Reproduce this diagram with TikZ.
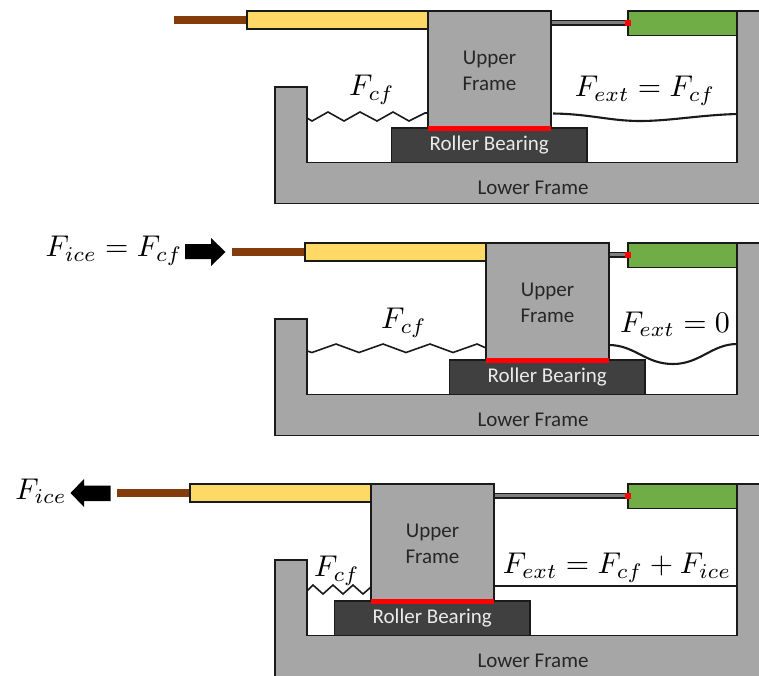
\documentclass[tikz,border=0pt]{standalone}
\usepackage[no-math]{fontspec}
\setmainfont{Carlito}
\tikzset{
  part/.style={draw=edgecol,line width=1.8pt,anchor=north west,inner sep=0pt,outer sep=0pt},
  framebox/.style={part,fill=framegray,text=black!85,align=center,font=\fontsize{21}{25.5}\selectfont},
  frameline/.style={draw=edgecol,line width=1.8pt,fill=framegray,line join=miter},
  bearingbox/.style={part,fill=bearing,text=white!92!black,font=\fontsize{21}{25}\selectfont},
  redbar/.style={anchor=north west,fill=red,inner sep=0pt,outer sep=0pt},
  rodbar/.style={anchor=north west,fill=rodbrown,inner sep=0pt,outer sep=0pt},
  spring/.style={draw=edgecol,line width=1.6pt,line join=miter},
  cable/.style={draw=edgecol,line width=2.1pt},
  force/.style={fill=black,draw=none},
  eqn/.style={inner sep=0pt,transform shape,scale=3.0},
  caption/.style={inner sep=0pt,text=black!85,font=\fontsize{21}{25}\selectfont}
}
\definecolor{edgecol}{HTML}{1A1A1A}
\definecolor{framegray}{HTML}{A6A6A6}
\definecolor{bearing}{HTML}{404040}
\definecolor{barrel}{HTML}{FFD966}
\definecolor{leaf}{HTML}{70AD47}
\definecolor{rodbrown}{HTML}{843C0C}
\definecolor{rodgray}{HTML}{7F7F7F}
\newcommand{\rig}[3]{%
  \draw[frameline] (275,{#2+76}) -- (307,{#2+76}) -- (307,{#2+151.5}) -- (737,{#2+151.5}) -- (737,#2) -- (770,#2) -- (770,{#2+192.5}) -- (275,{#2+192.5}) -- cycle;
  \node[rodbar,minimum width=74pt,minimum height=8pt] (rod#1) at ({#3-254},{#2+5}) {};
  \node[part,fill=barrel,minimum width=181pt,minimum height=18pt] (barrel#1) at ({#3-181},#2) {};
  \node[part,fill=rodgray,minimum height=4.5pt,minimum width={628-(#3+123)}] (piston#1) at ({#3+123},{#2+9.5}) {};
  \node[part,fill=leaf,minimum width=109pt,minimum height=24.5pt] (cyl#1) at (628,#2) {};
  \node[redbar,minimum width=5.5pt,minimum height=5.5pt] (seal#1) at (625,{#2+9}) {};
  \node[framebox,minimum width=123pt,minimum height=120pt] (upper#1) at (#3,#2) {Upper\\Frame};
  \node[bearingbox,minimum width=195.5pt,minimum height=34.5pt] (rb#1) at ({#3-36.5},{#2+117}) {\raisebox{-1pt}{Roller Bearing}};
  \node[redbar,minimum width=123pt,minimum height=4.5pt] (pad#1) at (#3,{#2+115}) {};
  \node[caption] (lf#1) at (533,{#2+177}) {Lower Frame};
}
\begin{document}
\begin{tikzpicture}[x=1pt,y=-1pt]
\useasboundingbox (0,0) rectangle (759,675);
\clip (0,0) rectangle (759,675);
\rig{a}{11}{428}
\rig{b}{243}{486}
\rig{c}{484}{371}
% springs
\coordinate (wa) at (307,118);
\coordinate (ua) at (428,113);
\draw[spring] (wa) -- (312,121) -- (328,112) -- (344,121) -- (360,112) -- (377,121) -- (393,112) -- (409,121) -- (425,113) -- (ua);
\coordinate (wb) at (307,351);
\coordinate (ub) at (486,348);
\draw[spring] (wb) -- (312,352.5) -- (336,344) -- (359,352.5) -- (383,344) -- (406,352.5) -- (430,344) -- (453,352.5) -- (477,344) -- (ub);
\coordinate (wc) at (307,591);
\coordinate (uc) at (371,587);
\draw[spring] (wc) -- (313,585) -- (323,594) -- (333,585) -- (343,594) -- (353,585) -- (363,594) -- (uc);
% cables
\coordinate (ca) at (553,113.5);
\coordinate (da) at (737,114);
\draw[cable] (ca) .. controls (590,114) and (610,121) .. (640,121) .. controls (670,121) and (700,115) .. (da);
\coordinate (cb) at (608.5,345);
\coordinate (db) at (737,344);
\draw[cable] (cb) .. controls (635,345) and (645,364) .. (673,364) .. controls (700,364) and (712,344) .. (db);
\coordinate (cc) at (493,586);
\coordinate (dc) at (737,586);
\draw[cable] (cc) -- (dc);
% force arrows
\fill[force] (185,244) -- (211,244) -- (211,238) -- (225.5,252) -- (211,266) -- (211,259) -- (185,259) -- cycle;
\fill[force] (110.5,485.5) -- (84,485.5) -- (84,479) -- (70.5,493) -- (84,507) -- (84,501) -- (110.5,501) -- cycle;
% equations
\node[eqn] (f1) at (372,90) {$F_{cf}$};
\node[eqn] (e1) at (645,91) {$F_{ext}=F_{cf}$};
\node[eqn] (i2) at (114,251) {$F_{ice}=F_{cf}$};
\node[eqn] (f2) at (404,323) {$F_{cf}$};
\node[eqn] (e2) at (675,324) {$F_{ext}=0$};
\node[eqn] (i3) at (41,491) {$F_{ice}$};
\node[eqn] (f3) at (337,571) {$F_{cf}$};
\node[eqn] (e3) at (617,568) {$F_{ext}=F_{cf}+F_{ice}$};
\end{tikzpicture}
\end{document}
